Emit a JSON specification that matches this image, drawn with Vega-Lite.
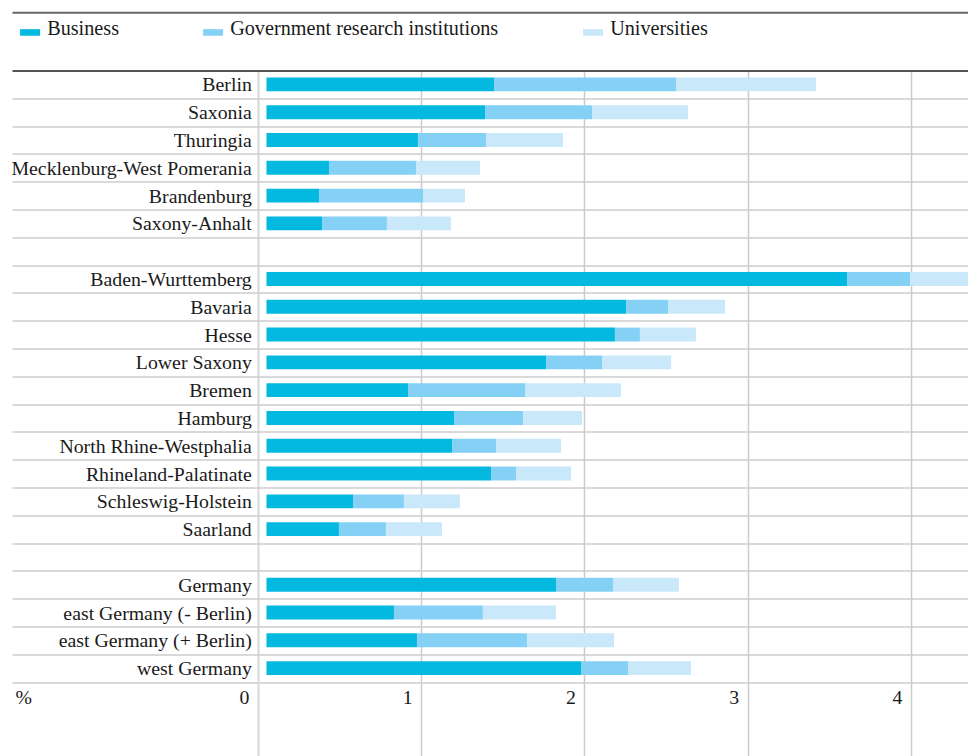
{
  "$schema": "https://vega.github.io/schema/vega-lite/v6.json",
  "autosize": "none",
  "width": 956,
  "height": 611.5,
  "padding": {"left": 12, "top": 70.5, "right": 0, "bottom": 74},
  "background": "white",
  "config": {"view": {"stroke": null}, "font": "Liberation Serif"},
  "data": {
    "values": [
      {"region": "Berlin", "Business": 1.394, "Government research institutions": 1.115, "Universities": 0.858},
      {"region": "Saxonia", "Business": 1.339, "Government research institutions": 0.656, "Universities": 0.588},
      {"region": "Thuringia", "Business": 0.928, "Government research institutions": 0.417, "Universities": 0.472},
      {"region": "Mecklenburg-West Pomerania", "Business": 0.383, "Government research institutions": 0.533, "Universities": 0.392},
      {"region": "Brandenburg", "Business": 0.322, "Government research institutions": 0.637, "Universities": 0.257},
      {"region": "Saxony-Anhalt", "Business": 0.34, "Government research institutions": 0.398, "Universities": 0.392},
      {"region": "Baden-Wurttemberg", "Business": 3.557, "Government research institutions": 0.386, "Universities": 0.45},
      {"region": "Bavaria", "Business": 2.203, "Government research institutions": 0.257, "Universities": 0.349},
      {"region": "Hesse", "Business": 2.135, "Government research institutions": 0.153, "Universities": 0.343},
      {"region": "Lower Saxony", "Business": 1.713, "Government research institutions": 0.343, "Universities": 0.423},
      {"region": "Bremen", "Business": 0.867, "Government research institutions": 0.717, "Universities": 0.588},
      {"region": "Hamburg", "Business": 1.149, "Government research institutions": 0.423, "Universities": 0.362},
      {"region": "North Rhine-Westphalia", "Business": 1.137, "Government research institutions": 0.27, "Universities": 0.398},
      {"region": "Rhineland-Palatinate", "Business": 1.376, "Government research institutions": 0.153, "Universities": 0.337},
      {"region": "Schleswig-Holstein", "Business": 0.53, "Government research institutions": 0.312, "Universities": 0.343},
      {"region": "Saarland", "Business": 0.444, "Government research institutions": 0.288, "Universities": 0.343},
      {"region": "Germany", "Business": 1.774, "Government research institutions": 0.349, "Universities": 0.404},
      {"region": "east Germany (- Berlin)", "Business": 0.781, "Government research institutions": 0.545, "Universities": 0.447},
      {"region": "east Germany (+ Berlin)", "Business": 0.922, "Government research institutions": 0.674, "Universities": 0.533},
      {"region": "west Germany", "Business": 1.927, "Government research institutions": 0.288, "Universities": 0.386}
    ]
  },
  "encoding": {
    "y": {
      "field": "region",
      "type": "nominal",
      "sort": null,
      "scale": {
        "domain": ["Berlin", "Saxonia", "Thuringia", "Mecklenburg-West Pomerania", "Brandenburg", "Saxony-Anhalt", " ",
                   "Baden-Wurttemberg", "Bavaria", "Hesse", "Lower Saxony", "Bremen", "Hamburg", "North Rhine-Westphalia", "Rhineland-Palatinate", "Schleswig-Holstein", "Saarland", "  ",
                   "Germany", "east Germany (- Berlin)", "east Germany (+ Berlin)", "west Germany"],
        "paddingInner": 0,
        "paddingOuter": 0
      },
      "axis": {
        "title": null,
        "labels": false,
        "ticks": false,
        "domain": false,
        "grid": true,
        "tickBand": "extent",
        "gridColor": {"condition": {"test": "datum.index < 0", "value": "#1a1a1a"}, "value": "#cccccc"},
        "gridWidth": 1.5
      }
    }
  },
  "layer": [
    {
      "transform": [{"fold": ["Business", "Government research institutions", "Universities"], "as": ["sector", "pct"]}],
      "mark": {"type": "bar", "height": {"band": 0.5}, "clip": true},
      "encoding": {
        "x": {
          "field": "pct",
          "type": "quantitative",
          "stack": "zero",
          "scale": {"domain": [-1.559, 4.298], "nice": false, "zero": false},
          "axis": {
            "orient": "bottom",
            "values": [-0.052, 0.948, 1.948, 2.948, 3.948],
            "grid": true,
            "gridColor": {"condition": {"test": "datum.value < 0", "value": "#dadada"}, "value": "#cccccc"},
            "gridWidth": {"condition": {"test": "datum.value < 0", "value": 2.2}, "value": 1.5},
            "ticks": true,
            "tickSize": 74,
            "tickColor": {"condition": {"test": "datum.value < 0", "value": "#dadada"}, "value": "#cccccc"},
            "tickWidth": {"condition": {"test": "datum.value < 0", "value": 2.2}, "value": 1.5},
            "domain": false,
            "labelExpr": "'' + round(datum.value)",
            "labelAlign": "right",
            "labelBaseline": "top",
            "labelOffset": -9,
            "labelPadding": -69,
            "labelFontSize": 19.8,
            "labelFont": "Liberation Serif",
            "labelColor": "#1a1a1a",
            "labelFlush": false,
            "labelOverlap": false,
            "title": "%",
            "titleX": 3,
            "titleY": 5,
            "titleAlign": "left",
            "titleBaseline": "top",
            "titleAnchor": "start",
            "titleFontSize": 19.8,
            "titleFontWeight": "normal",
            "titleFont": "Liberation Serif",
            "titleColor": "#1a1a1a"
          }
        },
        "color": {
          "field": "sector",
          "type": "nominal",
          "scale": {
            "domain": ["Business", "Government research institutions", "Universities"],
            "range": ["#04b9df", "#84d1f5", "#c9e8fa"]
          },
          "legend": {
            "orient": "none",
            "legendX": 8,
            "legendY": -51.5,
            "direction": "horizontal",
            "title": null,
            "padding": 0,
            "symbolType": "M-1,-0.03L1,-0.03L1,0.63L-1,0.63Z",
            "symbolSize": 400,
            "symbolStrokeWidth": 0,
            "symbolOpacity": 1,
            "labelFontSize": 20.2,
            "labelFont": "Liberation Serif",
            "labelColor": "#1a1a1a",
            "labelOffset": 7,
            "columnPadding": 84,
            "labelLimit": 400
          }
        }
      }
    },
    {
      "mark": {"type": "text", "align": "right", "baseline": "middle", "dy": 1, "fontSize": 19.8, "font": "Liberation Serif", "color": "#1a1a1a"},
      "encoding": {
        "x": {
          "datum": -0.09,
          "type": "quantitative",
          "axis": {
            "orient": "top",
            "offset": 58.2,
            "domain": true,
            "domainColor": "#666666",
            "domainWidth": 2,
            "ticks": false,
            "labels": false,
            "grid": false,
            "title": null
          }
        },
        "text": {"field": "region"}
      }
    }
  ],
  "resolve": {"axis": {"x": "independent"}}
}
